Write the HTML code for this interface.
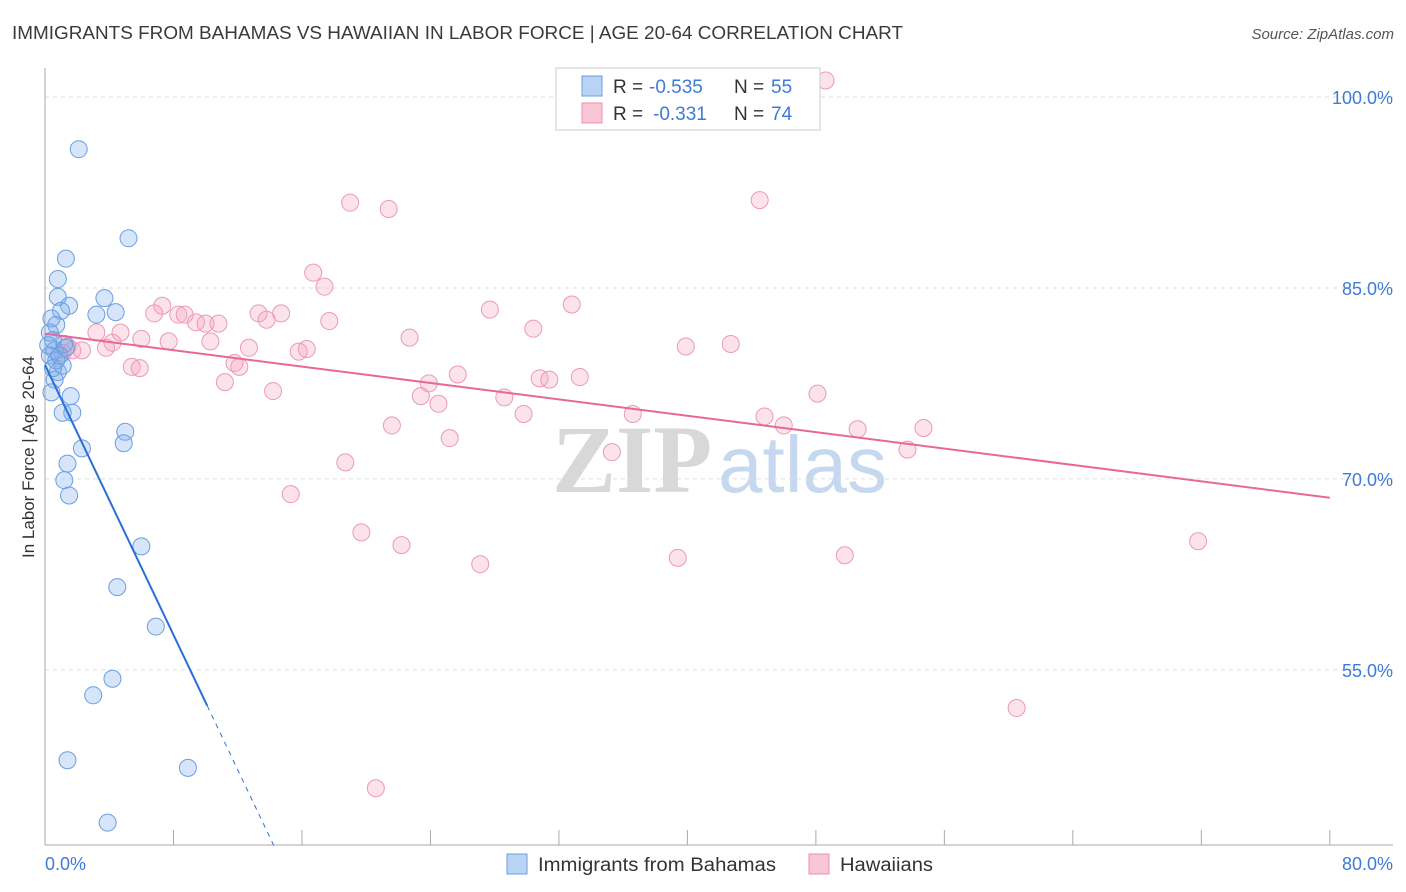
<!DOCTYPE html>
<html><head><meta charset="utf-8"><style>
body{margin:0;background:#fff;font-family:"Liberation Sans",sans-serif;}
svg{display:block}
</style></head><body>
<svg id="chart" width="1406" height="892" xmlns="http://www.w3.org/2000/svg">
<text x="12" y="39" font-size="18" fill="#3a3a3a" textLength="891" lengthAdjust="spacingAndGlyphs">IMMIGRANTS FROM BAHAMAS VS HAWAIIAN IN LABOR FORCE | AGE 20-64 CORRELATION CHART</text>
<text x="1394" y="39" font-size="15" fill="#555" font-style="italic" text-anchor="end">Source: ZipAtlas.com</text>
<g>
<text x="552" y="492" font-size="96" font-family="Liberation Serif,serif" fill="#d8d8d8" font-weight="bold">ZIP</text>
<text x="718" y="492" font-size="80" fill="#c5d8f0">atlas</text>
</g>
<g id="grid"></g>
<g id="axes"></g>
<g id="pinkPts"></g>
<g id="bluePts"></g>
<g id="lines"></g>
<text transform="translate(34,457) rotate(-90)" font-size="17" fill="#333" text-anchor="middle">In Labor Force | Age 20-64</text>
<g>
<rect x="556" y="68" width="264" height="62" fill="#fff" stroke="#ccc"/>
<rect x="582" y="76" width="20" height="20" fill="#b9d3f5" stroke="#6a9fe0"/>
<rect x="582" y="103" width="20" height="20" fill="#f9c6d6" stroke="#e890b0"/>
<text x="613" y="93" font-size="19" fill="#333">R =</text>
<text x="649" y="93" font-size="19" fill="#3f7bd6">-0.535</text>
<text x="734" y="93" font-size="19" fill="#333">N =</text>
<text x="771" y="93" font-size="19" fill="#3f7bd6">55</text>
<text x="613" y="120" font-size="19" fill="#333">R =</text>
<text x="653" y="120" font-size="19" fill="#3f7bd6">-0.331</text>
<text x="734" y="120" font-size="19" fill="#333">N =</text>
<text x="771" y="120" font-size="19" fill="#3f7bd6">74</text>
</g>
<g>
<rect x="507" y="854" width="20" height="20" fill="#b9d3f5" stroke="#6a9fe0"/>
<text x="538" y="871" font-size="19" fill="#333" textLength="238" lengthAdjust="spacingAndGlyphs">Immigrants from Bahamas</text>
<rect x="809" y="854" width="20" height="20" fill="#f9c6d6" stroke="#e890b0"/>
<text x="840" y="871" font-size="19" fill="#333" textLength="93" lengthAdjust="spacingAndGlyphs">Hawaiians</text>
</g>
</svg>
<script>
const yTicks=[100,85,70,55];
const xTickLabels=["0.0%","80.0%"];
const blueX=[2.1,5.2,1.3,0.8,0.8,1.5,3.7,4.4,3.2,1.0,0.4,0.7,0.3,1.2,0.6,0.3,1.1,0.8,0.6,0.4,1.6,1.1,1.7,5.0,4.9,2.3,1.4,1.2,1.5,6.0,4.5,6.9,4.2,3.0,1.4,8.9,3.9,0.5,0.7,0.2,0.9,1.3,0.5];
const blueY=[95.9,88.9,87.3,85.7,84.3,83.6,84.2,83.1,82.9,83.2,82.6,82.1,81.5,80.6,80.1,79.7,78.9,78.4,77.8,76.8,76.5,75.2,75.2,73.7,72.8,72.4,71.2,69.9,68.7,64.7,61.5,58.4,54.3,53.0,47.9,47.3,43.0,80.9,79.3,80.5,79.7,80.3,78.7];
const pinkX=[48.6,19.0,21.4,44.5,16.7,17.4,7.3,6.8,8.3,8.7,9.4,10.0,10.8,13.3,14.7,13.8,17.7,27.7,32.8,30.4,4.7,3.2,3.8,4.2,6.0,7.7,10.3,12.7,15.8,16.3,22.7,39.9,42.7,1.7,2.3,5.4,5.9,11.8,12.1,11.2,14.2,23.9,23.4,25.7,24.5,28.6,30.8,31.4,33.3,29.8,36.6,44.8,46.0,48.1,50.6,54.7,53.7,21.6,25.2,35.3,18.7,15.3,19.7,22.2,27.1,39.4,49.8,71.8,60.5,20.6,1.1,1.4];
const pinkY=[101.3,91.7,91.2,91.9,86.2,85.1,83.6,83.0,82.9,82.9,82.3,82.2,82.2,83.0,83.0,82.5,82.4,83.3,83.7,81.8,81.5,81.5,80.3,80.7,81.0,80.8,80.8,80.3,80.0,80.2,81.1,80.4,80.6,80.1,80.1,78.8,78.7,79.1,78.8,77.6,76.9,77.5,76.5,78.2,75.9,76.4,77.9,77.8,78.0,75.1,75.1,74.9,74.2,76.7,73.9,74.0,72.3,74.2,73.2,72.1,71.3,68.8,65.8,64.8,63.3,63.8,64.0,65.1,52.0,45.7,79.9,80.4];
const blueFit=[78.95,-2.65];
const pinkFit=[81.4,-0.161];
const X=v=>45+v*16.06, Y=v=>97+(100-v)*12.73;
const NS="http://www.w3.org/2000/svg";
function mk(tag,attrs,parent){const e=document.createElementNS(NS,tag);for(const k in attrs)e.setAttribute(k,attrs[k]);document.getElementById(parent).appendChild(e);return e;}
yTicks.forEach(t=>{
 const l=mk('line',{x1:45,x2:1393,y1:Y(t),y2:Y(t),stroke:'#ddd','stroke-dasharray':'4,4'},'grid');
 
 
 const tx=mk('text',{x:1393,y:Y(t)+7,'font-size':18,fill:'#3f7bd6','text-anchor':'end'},'grid');
 tx.textContent=t.toFixed(1)+'%';
 
 
});
let a=mk('line',{x1:45,x2:45,y1:68,y2:845,stroke:'#aaa'},'axes');


a=mk('line',{x1:45,x2:1393,y1:845,y2:845,stroke:'#aaa'},'axes');


for(let i=0;i<=10;i++){const t=mk('line',{x1:X(i*8),x2:X(i*8),y1:830,y2:845,stroke:'#aaa'},'axes');
 
 }
let tl=mk('text',{x:45,y:870,'font-size':18,fill:'#3f7bd6'},'axes');tl.textContent=xTickLabels[0];


tl=mk('text',{x:1393,y:870,'font-size':18,fill:'#3f7bd6','text-anchor':'end'},'axes');tl.textContent=xTickLabels[1];


pinkX.forEach((v,i)=>{const c=mk('circle',{cx:X(v),cy:Y(pinkY[i]),r:8.5,fill:'rgba(244,160,190,0.3)',stroke:'#eb9ab6','stroke-width':1},'pinkPts');
 
 });
blueX.forEach((v,i)=>{const c=mk('circle',{cx:X(v),cy:Y(blueY[i]),r:8.5,fill:'rgba(120,170,235,0.3)',stroke:'#6a9fe0','stroke-width':1},'bluePts');
 
 });
let pl=mk('line',{x1:X(0),y1:Y(pinkFit[0]),x2:X(80),y2:Y(pinkFit[0]+pinkFit[1]*80),stroke:'#e8679a','stroke-width':2},'lines');


const bEnd=10.1, bBottom=(blueFit[0]-41.2)/-blueFit[1];
let bl=mk('line',{x1:X(0),y1:Y(blueFit[0]),x2:X(bEnd),y2:Y(blueFit[0]+blueFit[1]*bEnd),stroke:'#2a6fd6','stroke-width':2},'lines');


bl=mk('line',{x1:X(bEnd),y1:Y(blueFit[0]+blueFit[1]*bEnd),x2:X(bBottom),y2:Y(blueFit[0]+blueFit[1]*bBottom),stroke:'#2a6fd6','stroke-width':1,'stroke-dasharray':'5,5'},'lines');


</script>
</body></html>
